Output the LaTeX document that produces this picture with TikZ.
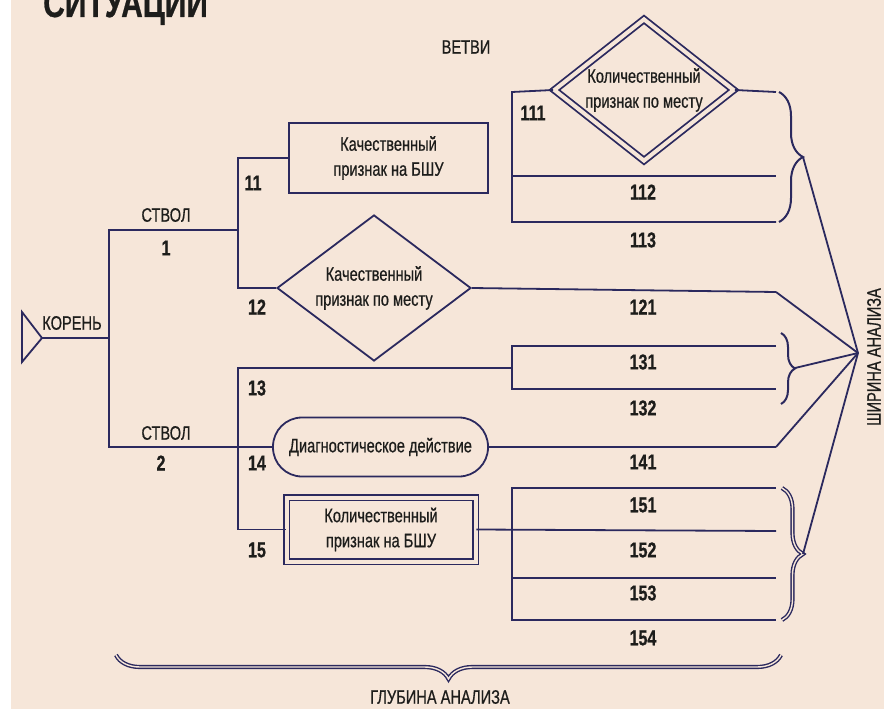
\documentclass[tikz,border=0pt]{standalone}
\usepackage{fontspec}
\setmainfont[FakeStretch=0.75, FakeBold=0.6]{Liberation Sans}
\usetikzlibrary{shapes.geometric,decorations.pathreplacing}

\definecolor{paper}{HTML}{F6E6D9}
\definecolor{ink}{HTML}{2B295E}
\definecolor{type}{HTML}{1D1D1B}

\begin{document}
\begin{tikzpicture}[x=1pt, y=-1pt,
    wire/.style={draw=ink, line width=1.8pt},
    lbl/.style={font=\fontsize{19.5}{23}\selectfont, text=type, inner sep=0pt},
    num/.style={font=\fontsize{21.5}{23}\selectfont\bfseries, text=type, inner sep=0pt},
    box/.style={wire, align=center, inner sep=0pt, text=type, font=\fontsize{19.5}{25}\selectfont},
    twin/.style={double=paper, double distance=4pt},
    curly/.style={draw=ink, line width=2pt, decorate, decoration={brace, amplitude=#1}},
    curlyII/.style={draw=ink, line width=1.4pt, double=paper, double distance=1.4pt, decorate, decoration={brace, amplitude=#1}},
    curlyIII/.style={draw=ink, line width=1.4pt, double=paper, double distance=1.4pt, decorate, decoration={brace, mirror, amplitude=#1}}]

        \useasboundingbox (0,0) rectangle (884,709);
        \fill [white] (0,0) rectangle (884,709);
        \fill [paper] (11,0) rectangle (884,709);

        \node [anchor=base west, inner sep=0pt, text=type, font=\fontsize{40}{40}\selectfont\bfseries] (title) at (43,17) {СИТУАЦИИ};

        % root and trunks

        \coordinate (r) at (42,338);
        \coordinate (k) at (109,338);
        \coordinate (s1) at (238,230);
        \draw [wire, line join=miter] (22,312) -- (r) -- (22,362) -- cycle;
        \draw [wire] (r) -- (k);

        \node [lbl] (koren) at (72,323) {КОРЕНЬ};
        \node [lbl] (stvol1) at (166,215) {СТВОЛ};
        \node [num] (n1) at (166,248) {1};
        \node [lbl] (stvol2) at (166,433) {СТВОЛ};
        \node [num] (n2) at (161,463) {2};
        \node [lbl] (vetvi) at (466,47) {ВЕТВИ};

        % trunk 1

        \node [box, minimum width=199pt, minimum height=70pt] (q11) at (388.5,158) {Качественный\\признак на БШУ};
        \node [box, diamond, aspect=1.3, minimum width=194pt, minimum height=146pt] (q12) at (374,288) {Качественный\\признак по месту};

        \draw [wire] (k) |- (s1);
        \draw [wire] (q11.west) -| (s1) |- (q12.west);

        \node [num] (n11) at (253,183) {11};
        \node [num] (n12) at (257,307) {12};

        % trunk 2

        \node [box, rounded corners=29pt, minimum width=215pt, minimum height=59pt] (q14) at (380.5,447) {Диагностическое действие};
        \node [box, twin, minimum width=189pt, minimum height=64pt] (q15) at (381,529.5) {Количественный\\признак на БШУ};

        \coordinate (g13) at (512,368);
        \draw [wire] (k) |- (q14.west);
        \draw [wire] (g13) -| (238,445) |- (q15.west);

        \node [num] (n13) at (257,388) {13};
        \node [num] (n14) at (257,463) {14};
        \node [num] (n15) at (257,550) {15};

        % branches 111 - 113

        \node [box, twin, diamond, aspect=1.25, minimum width=180pt, minimum height=142pt] (q111) at (644,90) {Количественный\\признак по месту};

        \coordinate (a11) at (512,92);
        \coordinate (b11) at (512,222);
        \coordinate (e111) at (776,92);
        \coordinate (e112) at (776,176);
        \coordinate (e113) at (776,222);
        \draw [wire] (q111.west) -- (a11) -- (b11) -- (e113);
        \draw [wire] (q111.east) -- (e111);
        \draw [wire] (a11 |- e112) -- (e112);

        \node [num] (n111) at (533,113) {111};
        \node [num] (n112) at (643,192) {112};
        \node [num] (n113) at (643,240) {113};

        % branch 121

        \coordinate (e121) at (776,292);
        \draw [wire] (q12.east) -- (e121);
        \node [num] (n121) at (643,307) {121};

        % branches 131 - 132

        \coordinate (a13) at (512,346);
        \coordinate (b13) at (512,389);
        \coordinate (e131) at (776,346);
        \coordinate (e132) at (776,389);
        \draw [wire] (e131) -- (a13) -- (b13) -- (e132);

        \node [num] (n131) at (643,362) {131};
        \node [num] (n132) at (643,408) {132};

        % branch 141

        \coordinate (e141) at (776,447);
        \draw [wire] (q14.east) -- (e141);
        \node [num] (n141) at (643,462) {141};

        % branches 151 - 154

        \coordinate (a15) at (512,488);
        \coordinate (b15) at (512,620);
        \coordinate (e151) at (776,488);
        \coordinate (e152) at (776,531);
        \coordinate (e153) at (776,578);
        \coordinate (e154) at (776,620);
        \draw [wire] (e151) -- (a15) -- (b15) -- (e154);
        \draw [wire] (q15.east) -- (e152);
        \draw [wire] (a15 |- e153) -- (e153);

        \node [num] (n151) at (643,505) {151};
        \node [num] (n152) at (643,550) {152};
        \node [num] (n153) at (643,593) {153};
        \node [num] (n154) at (643,638) {154};

        % width of analysis

        \draw [curly=24pt] (779,92) -- (779,222);
        \draw [curly=14pt] (781,333) -- (781,404);
        \draw [curlyII=21pt] (782,488) -- (782,620);

        \coordinate (apex) at (858,353);
        \coordinate (t11) at (803,157);
        \coordinate (t13) at (795,368);
        \coordinate (t15) at (803,554);
        \draw [wire] (t11) -- (apex);
        \draw [wire] (e121) -- (apex);
        \draw [wire] (t13) -- (apex);
        \draw [wire] (e141) -- (apex);
        \draw [wire] (t15) -- (apex);

        \node [lbl, rotate=90] (shirina) at (874,357) {ШИРИНА АНАЛИЗА};

        % depth of analysis

        \draw [curlyIII=24pt] (116,655) -- (781,655);
        \node [lbl] (glubina) at (440,697) {ГЛУБИНА АНАЛИЗА};

    \end{tikzpicture}
\end{document}
